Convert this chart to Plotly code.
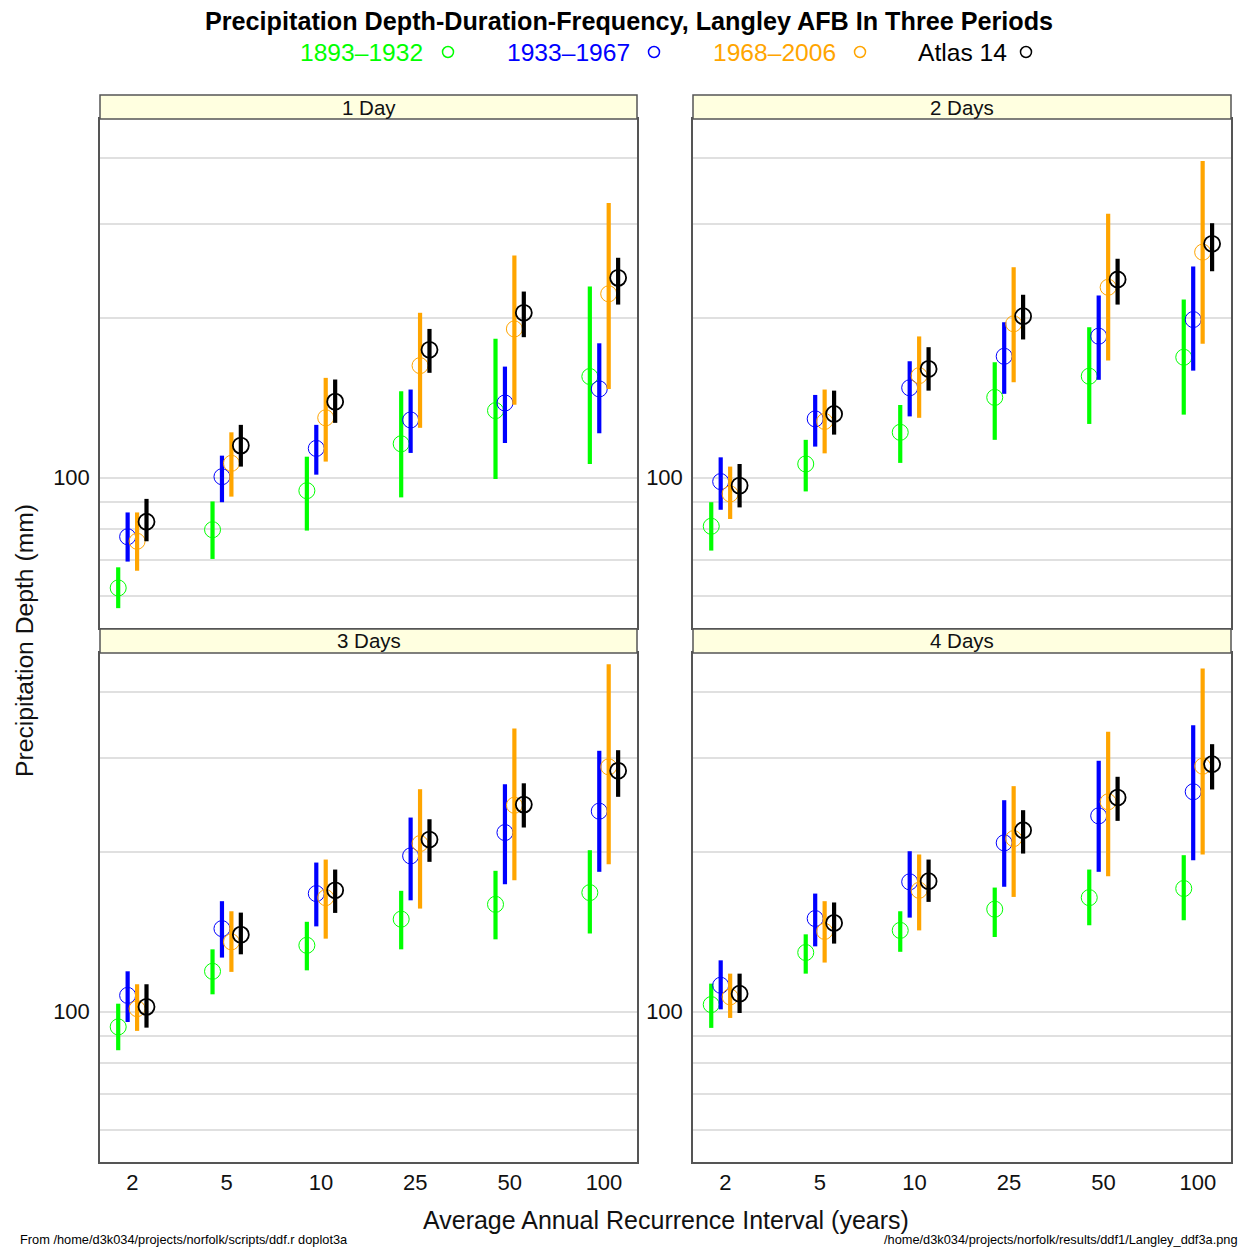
import plotly.graph_objects as go

# ---------------- data ----------------
categories = ["2", "5", "10", "25", "50", "100"]          # average recurrence interval (years)
durations = ["1 Day", "2 Days", "3 Days", "4 Days"]
periods = ["1893–1932", "1933–1967", "1968–2006", "Atlas 14"]

# rows = durations (1,2,3,4 days), columns = categories
est_1893_1932 = [[62.0, 79.8, 94.5, 115.8, 133.7, 155.0],
                 [81.0, 106.1, 121.7, 141.6, 155.2, 168.5],
                 [93.6, 119.1, 133.3, 149.3, 159.2, 167.5],
                 [103.1, 129.2, 142.2, 155.9, 163.9, 170.5]]
lo_1893_1932 = [[56.8, 70.3, 79.5, 91.8, 99.4, 106.1],
                [72.9, 94.2, 106.6, 117.8, 126.2, 131.4],
                [84.6, 107.8, 119.6, 131.0, 136.8, 140.3],
                [93.2, 117.9, 129.6, 138.2, 145.4, 148.6]]
hi_1893_1932 = [[67.8, 90.2, 109.5, 145.4, 182.5, 228.9],
                [89.9, 117.8, 137.0, 164.9, 191.9, 216.4],
                [103.5, 131.0, 147.6, 168.8, 184.1, 201.3],
                [112.9, 139.8, 154.5, 171.2, 185.1, 197.0]]

est_1933_1967 = [[77.4, 100.4, 113.5, 128.4, 138.2, 146.9],
                 [98.3, 129.0, 147.6, 169.2, 184.6, 198.4],
                 [107.3, 143.3, 166.8, 196.4, 217.3, 238.4],
                 [112.1, 149.7, 175.5, 207.8, 233.6, 259.3]]
lo_1933_1967 = [[69.5, 89.9, 101.3, 111.3, 116.2, 121.2],
                [87.0, 114.4, 130.4, 143.8, 152.8, 159.0],
                [95.6, 126.4, 144.7, 162.0, 173.7, 183.3],
                [101.0, 132.7, 150.3, 171.8, 183.3, 192.7]]
hi_1933_1967 = [[86.0, 110.0, 125.7, 146.5, 161.8, 179.0],
                [109.2, 143.1, 165.6, 196.1, 220.2, 249.7],
                [119.1, 161.4, 190.8, 231.9, 267.9, 309.7],
                [124.9, 166.8, 200.4, 250.0, 296.6, 346.1]]

est_1968_2006 = [[75.9, 106.4, 129.6, 162.5, 190.5, 221.8],
                 [93.2, 127.6, 155.6, 194.8, 228.2, 265.7],
                 [101.3, 135.3, 163.9, 207.2, 244.6, 288.9],
                 [106.6, 141.6, 169.2, 211.7, 248.3, 289.7]]
lo_1968_2006 = [[66.8, 92.1, 107.2, 124.1, 137.2, 146.9],
                [83.6, 111.1, 129.6, 151.2, 166.1, 178.6],
                [92.0, 118.8, 137.2, 156.3, 176.7, 189.4],
                [97.3, 123.7, 142.2, 164.4, 179.8, 197.6]]
hi_1968_2006 = [[86.0, 121.7, 154.1, 204.3, 261.9, 328.6],
                [104.9, 146.5, 184.4, 248.9, 313.8, 394.2],
                [112.6, 154.5, 193.3, 262.2, 341.2, 450.8],
                [117.9, 161.4, 197.6, 265.7, 336.3, 442.6]]

est_atlas14 = [[82.6, 114.9, 139.0, 174.0, 204.3, 237.7],
               [96.6, 131.8, 160.2, 201.3, 236.0, 275.5],
               [102.1, 139.6, 169.2, 210.8, 245.3, 284.0],
               [108.1, 146.9, 176.0, 219.5, 252.9, 292.2]]
lo_atlas14 = [[75.9, 104.9, 126.8, 157.5, 183.8, 211.7],
              [87.9, 120.5, 145.8, 182.0, 211.7, 244.6],
              [93.3, 128.2, 153.4, 191.4, 222.1, 253.7],
              [99.4, 134.3, 160.9, 198.4, 228.6, 261.9]]
hi_atlas14 = [[91.2, 125.7, 153.0, 190.5, 224.0, 259.3],
              [106.1, 145.8, 176.0, 220.9, 258.2, 301.2],
              [112.6, 153.6, 185.1, 230.2, 269.0, 310.5],
              [117.9, 160.5, 193.3, 239.4, 276.7, 318.7]]

grid_values = [60, 70, 80, 90, 100, 200, 300, 400]
grid_labels = ["", "", "", "", "100", "", "", ""]

# ---------------- styling ----------------
W, H = 1241, 1249
colors = ["#00FF00", "#0000FF", "#FFA500", "#000000"]
offsets = [-0.15, -0.05, 0.05, 0.15]
marker_lw = [1.0, 1.0, 1.0, 1.8]
series = [(est_1893_1932, lo_1893_1932, hi_1893_1932),
          (est_1933_1967, lo_1933_1967, hi_1933_1967),
          (est_1968_2006, lo_1968_2006, hi_1968_2006),
          (est_atlas14, lo_atlas14, hi_atlas14)]

FONT = "Liberation Sans, Arial, sans-serif"
FRAME = "#555555"
GRID = "#E0E0E0"


def px(x):
    return x / W


def py(y):
    return 1 - y / H


# panel pixel boxes: (left, right, top, bottom)
panels = [(100, 637, 119, 628), (693, 1231, 119, 628),
          (100, 637, 653, 1162), (693, 1231, 653, 1162)]
strip_h = 24

fig = go.Figure()
layout = dict(width=W, height=H, margin=dict(l=0, r=0, t=0, b=0),
              paper_bgcolor="white", plot_bgcolor="white", showlegend=False,
              font=dict(family=FONT, color="black"))
shapes = []
annotations = []

for p, (l, r, t, b) in enumerate(panels):
    xa = "xaxis" if p == 0 else f"xaxis{p+1}"
    ya = "yaxis" if p == 0 else f"yaxis{p+1}"
    xs = "x" if p == 0 else f"x{p+1}"
    ys = "y" if p == 0 else f"y{p+1}"
    bottom_row = p >= 2
    layout[xa] = dict(domain=[px(l), px(r)], anchor=ys, range=[0.657, 6.35],
                      tickvals=list(range(1, len(categories) + 1)), ticktext=categories,
                      showticklabels=bottom_row, ticks="",
                      tickfont=dict(size=22, family=FONT, color="#111"),
                      showgrid=False, zeroline=False, showline=True, mirror=True,
                      linecolor=FRAME, linewidth=1.5, fixedrange=True)
    layout[ya] = dict(domain=[py(b), py(t)], anchor=xs, type="log", range=[1.717, 2.675],
                      tickvals=grid_values, ticktext=grid_labels, ticks="outside",
                      ticklen=4, tickcolor="rgba(0,0,0,0)",
                      tickfont=dict(size=22, family=FONT, color="#111"),
                      showgrid=True, gridcolor=GRID, gridwidth=1.5, zeroline=False,
                      showline=True, mirror=True, linecolor=FRAME, linewidth=1.5,
                      fixedrange=True)
    # strip
    shapes.append(dict(type="rect", xref="paper", yref="paper",
                       x0=px(l), x1=px(r), y0=py(t), y1=py(t - strip_h),
                       fillcolor="#FFFFE0", line=dict(color=FRAME, width=1.5), layer="above"))
    annotations.append(dict(text=durations[p], xref="paper", yref="paper",
                            x=px((l + r) / 2), y=py(t - strip_h / 2),
                            xanchor="center", yanchor="middle", showarrow=False,
                            font=dict(size=20.5, family=FONT, color="#111")))
    # data
    for s, (est, lo, hi) in enumerate(series):
        xvals = [i + 1 + offsets[s] for i in range(len(categories))]
        e = est[p]
        fig.add_trace(go.Scatter(
            x=xvals, y=e, mode="markers", xaxis=xs, yaxis=ys, name=periods[s],
            marker=dict(symbol="circle-open", size=16, color=colors[s],
                        line=dict(width=marker_lw[s], color=colors[s])),
            error_y=dict(type="data", symmetric=False,
                         array=[h - v for h, v in zip(hi[p], e)],
                         arrayminus=[v - q for v, q in zip(e, lo[p])],
                         color=colors[s], thickness=4.2, width=0),
            hoverinfo="skip"))

# title and legend
annotations.append(dict(text="<b>Precipitation Depth-Duration-Frequency, Langley AFB In Three Periods</b>",
                        xref="paper", yref="paper", x=px(628.5), y=py(21),
                        xanchor="center", yanchor="middle", showarrow=False,
                        font=dict(size=25.2, family=FONT, color="black")))
legend_text_left = [298, 505, 711, 916]
legend_circle_x = [448, 654, 860, 1026]
for s in range(4):
    annotations.append(dict(text=periods[s], xref="paper", yref="paper",
                            x=px(legend_text_left[s]), y=py(52),
                            xanchor="left", yanchor="middle", showarrow=False,
                            font=dict(size=24.6, family=FONT, color=colors[s])))
    cx = legend_circle_x[s]
    shapes.append(dict(type="circle", xref="paper", yref="paper",
                       x0=px(cx - 5.5), x1=px(cx + 5.5), y0=py(52 + 5.5), y1=py(52 - 5.5),
                       line=dict(color=colors[s], width=1.5)))

# axis titles
annotations.append(dict(text="Average Annual Recurrence Interval (years)", xref="paper", yref="paper",
                        x=px(665.5), y=py(1220), xanchor="center", yanchor="middle",
                        showarrow=False, font=dict(size=25, family=FONT, color="#111")))
annotations.append(dict(text="Precipitation Depth (mm)", xref="paper", yref="paper",
                        x=px(25), y=py(641), xanchor="center", yanchor="middle", textangle=-90,
                        showarrow=False, font=dict(size=24.7, family=FONT, color="#111")))
# footers
annotations.append(dict(text="From /home/d3k034/projects/norfolk/scripts/ddf.r doplot3a",
                        xref="paper", yref="paper", x=px(18), y=py(1239.5),
                        xanchor="left", yanchor="middle", showarrow=False,
                        font=dict(size=12.8, family=FONT, color="black")))
annotations.append(dict(text="/home/d3k034/projects/norfolk/results/ddf1/Langley_ddf3a.png",
                        xref="paper", yref="paper", x=px(1240), y=py(1239.5),
                        xanchor="right", yanchor="middle", showarrow=False,
                        font=dict(size=12.8, family=FONT, color="black")))

layout["shapes"] = shapes
layout["annotations"] = annotations
fig.update_layout(**layout)
fig.write_html("out.html", config={"displayModeBar": False},
               post_script="document.body.style.margin='0';document.body.style.overflow='hidden';")
